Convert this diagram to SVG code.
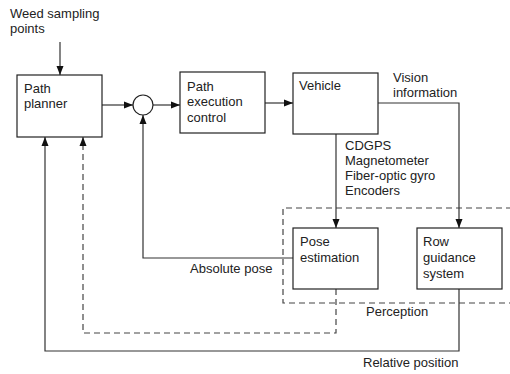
<svg xmlns="http://www.w3.org/2000/svg" width="510" height="374" viewBox="0 0 510 374">
<defs>
<marker id="ah" markerWidth="9" markerHeight="8" refX="9" refY="4" orient="auto" markerUnits="userSpaceOnUse">
<path d="M0,0.5 L9,4 L0,7.5 Z" fill="#111"/>
</marker>
<style>
text{font-family:"Liberation Sans",Arial,sans-serif;font-size:13px;fill:#222}
.box{fill:#fff;stroke:#222;stroke-width:1.2}
.ln{fill:none;stroke:#333;stroke-width:1.2}
.dash{fill:none;stroke:#444;stroke-width:1.2;stroke-dasharray:6,4}
</style>
</defs>
<rect width="510" height="374" fill="#fff"/>
<path class="dash" d="M512,208 H283 V303 H512"/>
<g id="connectors">
<path class="ln" d="M60,42 V75" marker-end="url(#ah)"/>
<path class="ln" d="M102,105 H133" marker-end="url(#ah)"/>
<path class="ln" d="M153,105 H180" marker-end="url(#ah)"/>
<path class="ln" d="M265,103 H293" marker-end="url(#ah)"/>
<path class="ln" d="M378,103 H459 V228" marker-end="url(#ah)"/>
<path class="ln" d="M336,134 V228" marker-end="url(#ah)"/>
<path class="ln" d="M293,258 H143 V115" marker-end="url(#ah)"/>
<path class="dash" d="M336,289 V333 H83 V137" marker-end="url(#ah)"/>
<path class="ln" d="M459,289 V351 H45 V137" marker-end="url(#ah)"/>
</g>
<g id="planner">
<rect class="box" x="17" y="75" width="85" height="62"/>
<text x="24" y="93">Path</text>
<text x="24" y="108">planner</text>
</g>
<g id="sum">
<circle cx="143" cy="105" r="10" fill="#fff" stroke="#222" stroke-width="1.2"/>
</g>
<g id="exec">
<rect class="box" x="180" y="72" width="85" height="61"/>
<text x="187" y="91">Path</text>
<text x="187" y="106">execution</text>
<text x="187" y="122">control</text>
</g>
<g id="vehicle">
<rect class="box" x="293" y="73" width="85" height="61"/>
<text x="299" y="90">Vehicle</text>
</g>
<g id="pose">
<rect class="box" x="293" y="228" width="85" height="61"/>
<text x="300" y="246">Pose</text>
<text x="300" y="262">estimation</text>
</g>
<g id="row">
<rect class="box" x="417" y="228" width="85" height="61"/>
<text x="423" y="246">Row</text>
<text x="423" y="262">guidance</text>
<text x="423" y="278">system</text>
</g>
<g id="labels">
<text x="10" y="18">Weed sampling</text>
<text x="10" y="33">points</text>
<text x="393" y="82">Vision</text>
<text x="393" y="97">information</text>
<text x="345" y="150">CDGPS</text>
<text x="345" y="165">Magnetometer</text>
<text x="345" y="180">Fiber-optic gyro</text>
<text x="345" y="195">Encoders</text>
<text x="190" y="273">Absolute pose</text>
<text x="366" y="316">Perception</text>
<text x="363" y="367">Relative position</text>
</g>
</svg>
